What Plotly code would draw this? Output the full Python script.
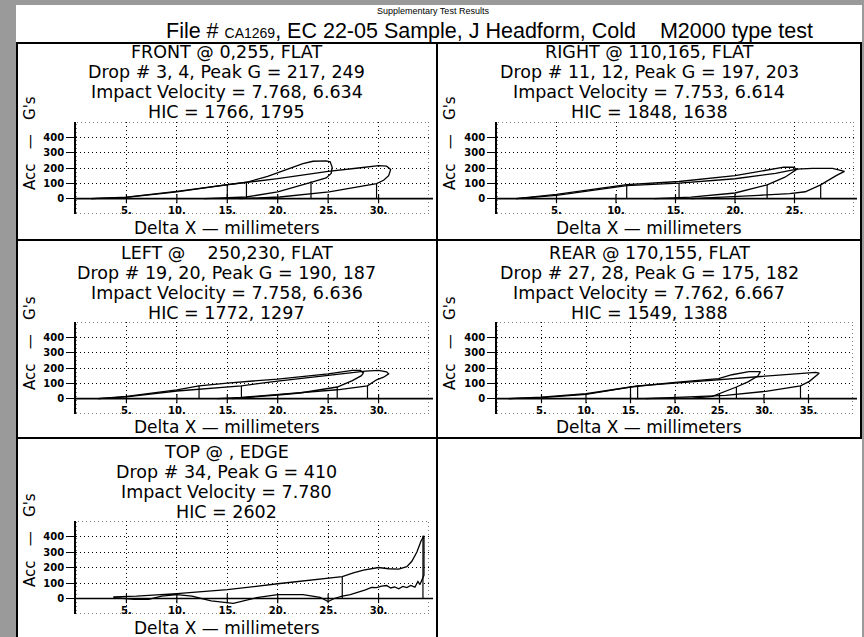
import plotly.graph_objects as go

W, H = 864, 637

# ---- data (Delta X in mm, Acc in G) ----
# FRONT @ 0,255
front_x1 = [1.5, 5, 10, 15, 16.9, 19, 21, 22.5, 23.5, 24.8, 25.2, 25.4, 25.3, 24.8, 23.3, 20, 16.9, 12.7]
front_y1 = [0, 10, 48, 93, 107, 145, 195, 228, 244, 247, 240, 205, 165, 135, 107, 44, 11, 0]
front_x2 = [1.5, 5, 10, 15, 20, 25, 28, 30, 30.8, 31.2, 31.0, 30.5, 29.8, 25.1, 20.2, 16.2]
front_y2 = [0, 8, 44, 92, 130, 178, 200, 215, 212, 190, 150, 120, 98, 44, 11, 0]
front_hic_x = [15, 16.9, 23.3, 29.8]
front_hic_y = [93, 110, 112, 98]

# RIGHT @ 110,165
right_x1 = [1.6, 5, 10.9, 15.3, 20, 22.7, 24.1, 24.9, 25.2, 24.2, 22.7, 20, 16.3, 13.2]
right_y1 = [0, 28, 92, 112, 150, 185, 205, 205, 192, 140, 90, 37, 10, 0]
right_x2 = [1.6, 5, 10.9, 15.3, 20, 23.4, 25.2, 26.5, 28.2, 29.2, 28.5, 27.2, 25.9, 24.6, 22, 19.2, 16.3]
right_y2 = [0, 22, 85, 102, 130, 165, 193, 197, 197, 178, 150, 90, 45, 33, 22, 11, 0]
right_hic_x = [10.9, 15.3, 22.7, 27.2]
right_hic_y = [90, 102, 90, 90]

# LEFT @ 250,230
left_x1 = [2.2, 5, 10, 12.2, 15, 20, 25, 27.4, 28.2, 28.5, 28.3, 27.4, 25.9, 22.2, 20, 16.4, 15.5]
left_y1 = [0, 15, 58, 84, 102, 128, 162, 184, 184, 168, 150, 118, 76, 37, 24, 5, 0]
left_x2 = [2.2, 5, 10, 16.4, 20, 25, 28.7, 30, 30.8, 31, 30.5, 29.8, 28.9, 25.9, 20, 16.4, 14]
left_y2 = [0, 12, 50, 84, 115, 150, 180, 184, 175, 162, 140, 123, 84, 58, 26, 8, 0]
left_hic_x = [12.2, 16.4, 25.9, 28.9]
left_hic_y = [84, 84, 76, 84]

# REAR @ 170,155
rear_x1 = [1.3, 5, 10, 15, 20, 22.7, 24.9, 26.4, 28.3, 29.6, 29.3, 28.2, 26.9, 24.2, 22, 15.5]
rear_y1 = [0, 10, 32, 76, 106, 120, 130, 156, 177, 176, 148, 110, 76, 15, 4, 0]
rear_x2 = [1.3, 5, 10, 15.8, 20, 25, 29.5, 33, 35.8, 36.2, 35.6, 35.1, 34.1, 30.2, 25.7, 20, 16.7]
rear_y2 = [0, 7, 28, 84, 102, 125, 145, 162, 172, 166, 135, 113, 84, 48, 22, 8, 0]
rear_hic_x = [15, 15.8, 26.9, 34.1]
rear_hic_y = [76, 84, 76, 84]

# TOP @ , EDGE
top_x1 = [3.7, 6, 10, 15, 20, 25, 26.4, 27.5, 28.5, 30, 31, 32, 32.8, 33.3, 33.8, 34.2, 34.5,
          34.5, 34.3, 34.1, 33.9, 33.6, 33.2, 32.8, 32.4, 32, 31.6, 31.2, 30.8, 30.3, 29.8, 29.3,
          28.7, 28.2, 27.7, 27.2, 26.4, 25.6, 25.0, 24.2, 22.5, 20, 17.9, 15.6, 13.4, 11.5, 10,
          8.5, 7.2, 5.8, 3.7]
top_y1 = [10, 15, 32, 57, 95, 133, 141, 165, 183, 200, 192, 190, 205, 240, 300, 370, 405,
          150, 125, 90, 110, 73, 84, 70, 78, 63, 75, 68, 84, 80, 70, 72,
          55, 45, 40, 25, 15, 0, -20, 8, 25, 25, 5, -32, -15, 15, 25,
          15, -5, -5, 5]
top_hic_x = [26.4, 34.4]
top_hic_y = [141, 405]

y_ticks = [0, 100, 200, 300, 400]

titles = {
    'front': ['FRONT @ 0,255, FLAT', 'Drop # 3, 4, Peak G = 217, 249',
              'Impact Velocity = 7.768, 6.634', 'HIC = 1766, 1795'],
    'right': ['RIGHT @ 110,165, FLAT', 'Drop # 11, 12, Peak G = 197, 203',
              'Impact Velocity = 7.753, 6.614', 'HIC = 1848, 1638'],
    'left': ['LEFT @\u00a0\u00a0\u00a0 250,230, FLAT', 'Drop # 19, 20, Peak G = 190, 187',
             'Impact Velocity = 7.758, 6.636', 'HIC = 1772, 1297'],
    'rear': ['REAR @ 170,155, FLAT', 'Drop # 27, 28, Peak G = 175, 182',
             'Impact Velocity = 7.762, 6.667', 'HIC = 1549, 1388'],
    'top': ['TOP @ , EDGE', 'Drop # 34, Peak G = 410',
            'Impact Velocity = 7.780', 'HIC = 2602'],
}

# ---- layout of the page, in pixels ----
panels = [
    dict(name='front', ax='', plot=(76, 429, 122, 214), box=(17, 43, 437, 240), xmax=35,
         title_y=52, ytitle_y=143, xtitle_y=228,
         curves=[(front_x1, front_y1), (front_x2, front_y2)], hic=(front_hic_x, front_hic_y)),
    dict(name='right', ax='2', plot=(497, 854, 122, 214), box=(437, 43, 861, 240), xmax=30,
         title_y=52, ytitle_y=143, xtitle_y=228,
         curves=[(right_x1, right_y1), (right_x2, right_y2)], hic=(right_hic_x, right_hic_y)),
    dict(name='left', ax='3', plot=(76, 429, 322, 414), box=(17, 240, 437, 438), xmax=35,
         title_y=253, ytitle_y=343, xtitle_y=427,
         curves=[(left_x1, left_y1), (left_x2, left_y2)], hic=(left_hic_x, left_hic_y)),
    dict(name='rear', ax='4', plot=(497, 853, 322, 414), box=(437, 240, 861, 438), xmax=40,
         title_y=253, ytitle_y=343, xtitle_y=427,
         curves=[(rear_x1, rear_y1), (rear_x2, rear_y2)], hic=(rear_hic_x, rear_hic_y)),
    dict(name='top', ax='5', plot=(76, 429, 521, 614), box=(17, 438, 437, 640), xmax=35,
         title_y=452, ytitle_y=540, xtitle_y=628,
         curves=[(top_x1, top_y1)], hic=(top_hic_x, top_hic_y)),
]


def fx(p):
    return p / W


def fy(p):
    return 1 - p / H


FONT = 'DejaVu Sans'
DOT = '1px,3px'

fig = go.Figure()
shapes = []
annotations = []

# white page on the grey background
shapes.append(dict(type='rect', xref='paper', yref='paper', x0=fx(16), x1=fx(862),
                   y0=fy(5), y1=fy(640), fillcolor='white', line_width=0, layer='below'))

for p in panels:
    xa, ya = 'x' + p['ax'], 'y' + p['ax']
    x0, x1, y0, y1 = p['plot']
    xmax = p['xmax']
    xticks = list(range(5, xmax, 5))
    bx0, by0, bx1, by1 = p['box']

    for cx, cy in p['curves']:
        fig.add_trace(go.Scatter(x=cx, y=cy, mode='lines', xaxis=xa, yaxis=ya,
                                 line=dict(color='black', width=1.3), showlegend=False,
                                 hoverinfo='skip'))

    hx, hy = [], []
    for vx, vy in zip(*p['hic']):
        hx += [vx, vx, None]
        hy += [0, vy, None]
    fig.add_trace(go.Scatter(x=hx, y=hy, mode='lines', xaxis=xa, yaxis=ya,
                             line=dict(color='black', width=1.2), showlegend=False,
                             hoverinfo='skip'))

    tx, ty = [], []
    for t in xticks:
        tx += [t, t, None]
        ty += [-30, 30, None]
    fig.add_trace(go.Scatter(x=tx, y=ty, mode='lines', xaxis=xa, yaxis=ya,
                             line=dict(color='black', width=1.2), showlegend=False,
                             hoverinfo='skip'))

    fig.add_trace(go.Scatter(x=xticks, y=[-86] * len(xticks), mode='text',
                             text=[f'{t}.' for t in xticks], xaxis=xa, yaxis=ya,
                             textfont=dict(family=FONT, size=10, color='black', weight='bold'),
                             cliponaxis=False, showlegend=False, hoverinfo='skip'))

    fig.layout['xaxis' + p['ax']] = dict(
        domain=[fx(x0), fx(x1)], range=[0, xmax], anchor=ya,
        tickvals=xticks, showticklabels=False, ticks='',
        showgrid=True, gridcolor='black', gridwidth=1, griddash=DOT,
        zeroline=False, showline=False, fixedrange=True)
    fig.layout['yaxis' + p['ax']] = dict(
        domain=[fy(y1), fy(y0)], range=[-100, 500], anchor=xa,
        tickvals=y_ticks, ticks='outside', ticklen=8, tickwidth=1.2, tickcolor='black',
        tickfont=dict(family=FONT, size=10, color='black', weight='bold'),
        showgrid=True, gridcolor='black', gridwidth=1, griddash=DOT,
        zeroline=False, showline=True, linecolor='black', linewidth=1.6, fixedrange=True)

    # dotted frame of the plot area
    shapes.append(dict(type='rect', xref=xa, yref=ya, x0=0, x1=xmax, y0=-100, y1=500,
                       line=dict(color='black', width=1, dash=DOT)))
    # solid zero line running on to the panel edge
    shapes.append(dict(type='line', xref='paper', yref=ya, x0=fx(x0), x1=fx(bx1 - 4),
                       y0=0, y1=0, line=dict(color='black', width=1.7)))

    # panel box
    shapes.append(dict(type='rect', xref='paper', yref='paper', x0=fx(bx0), x1=fx(bx1),
                       y0=fy(by1), y1=fy(by0), line=dict(color='black', width=2)))

    cx = (bx0 + bx1) / 2
    for i, line in enumerate(titles[p['name']]):
        annotations.append(dict(x=fx(cx), y=fy(p['title_y'] + i * 20), xref='paper', yref='paper',
                                text=line, showarrow=False, xanchor='center', yanchor='middle',
                                font=dict(family=FONT, size=17.5, color='black')))
    annotations.append(dict(x=fx(cx), y=fy(p['xtitle_y']), xref='paper', yref='paper',
                            text='Delta X \u2014 millimeters', showarrow=False,
                            xanchor='center', yanchor='middle',
                            font=dict(family=FONT, size=17, color='black')))
    annotations.append(dict(x=fx(bx0 + 13), y=fy(p['ytitle_y']), xref='paper', yref='paper',
                            text="Acc\u00a0\u00a0 \u2014\u00a0\u00a0 G's", showarrow=False,
                            textangle=-90, xanchor='center', yanchor='middle',
                            font=dict(family=FONT, size=15, color='black')))

# header
annotations.append(dict(x=fx(433), y=fy(11), xref='paper', yref='paper',
                        text='Supplementary Test Results', showarrow=False,
                        xanchor='center', yanchor='middle',
                        font=dict(family='Liberation Sans', size=9, color='black')))
annotations.append(dict(x=fx(489), y=fy(31), xref='paper', yref='paper',
                        text="File # <span style='font-size:14px'>CA1269</span>, EC 22-05 Sample, "
                             "J Headform, Cold\u00a0\u00a0\u00a0 M2000 type test",
                        showarrow=False, xanchor='center', yanchor='middle',
                        font=dict(family='Liberation Sans', size=21.5, color='black')))

fig.update_layout(width=W, height=H, margin=dict(l=0, r=0, t=0, b=0),
                  paper_bgcolor='#9a9a9a', plot_bgcolor='white',
                  shapes=shapes, annotations=annotations, showlegend=False)

# the page body has a default 8px margin; drop it so the figure fills the window
fig.write_html('out.html', config={'displayModeBar': False},
               post_script="document.body.style.margin='0';"
                           "document.body.style.background='#9a9a9a';"
                           "document.body.style.overflow='hidden';")
